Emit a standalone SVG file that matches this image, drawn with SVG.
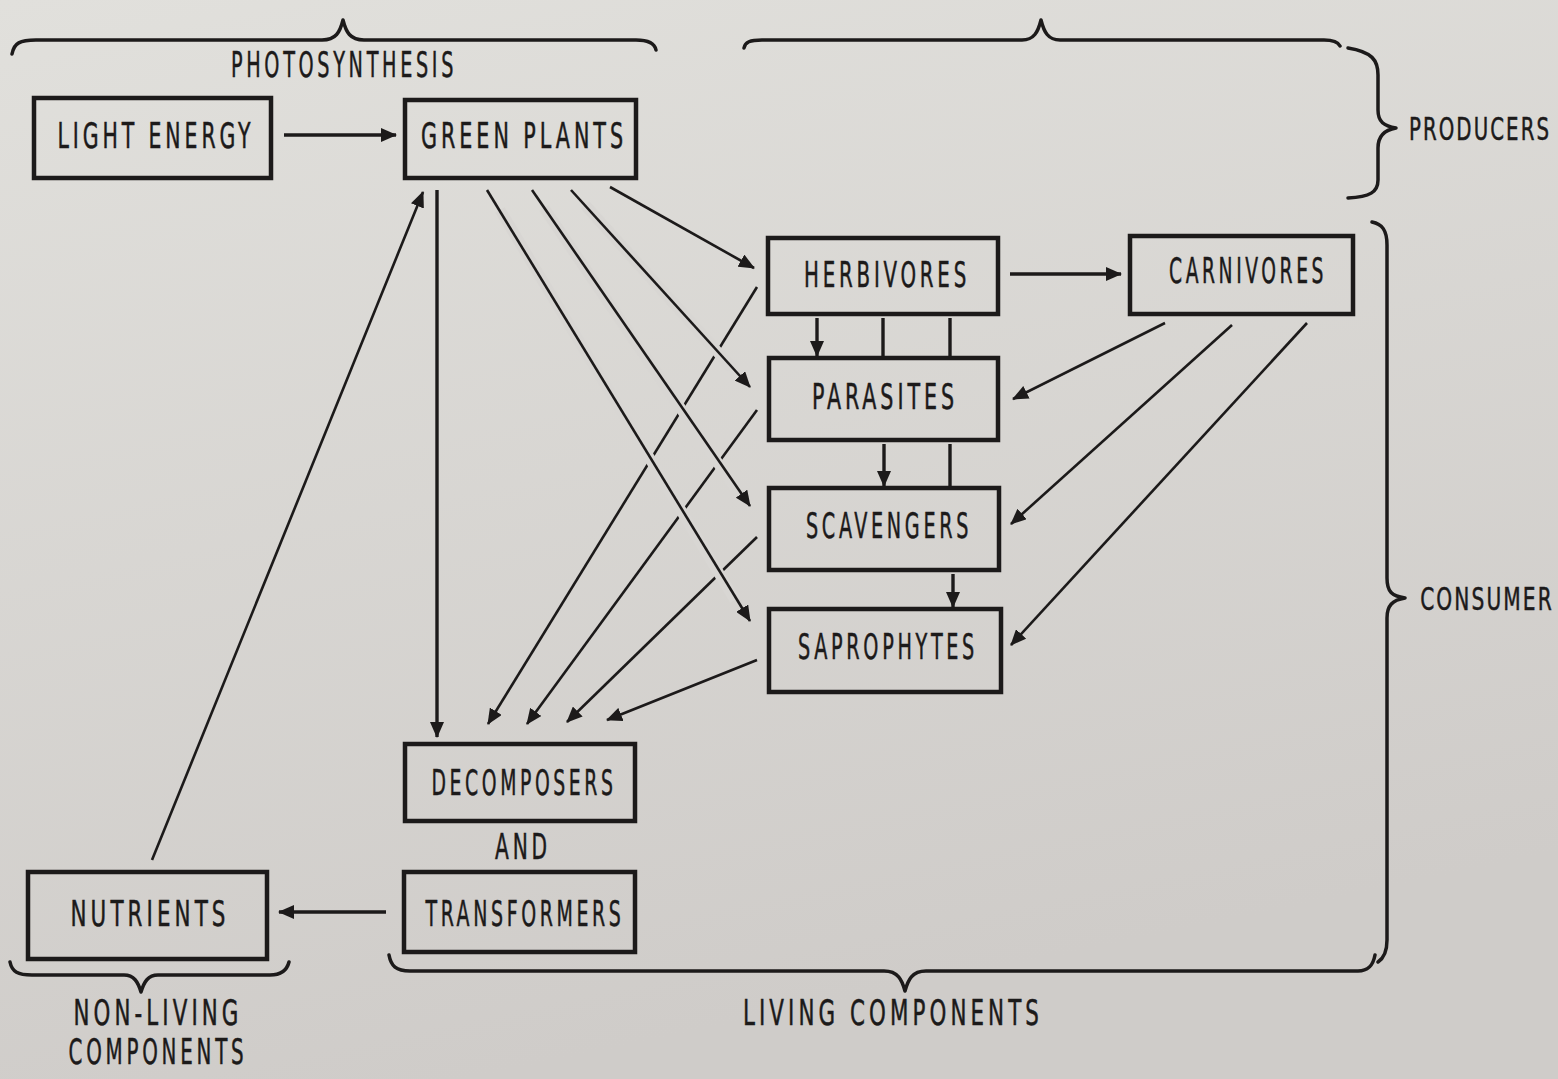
<svg xmlns="http://www.w3.org/2000/svg" width="1558" height="1079" viewBox="0 0 1558 1079">
<defs>
<linearGradient id="paper" x1="0" y1="0" x2="0.3" y2="1">
<stop offset="0" stop-color="#e1e0dc"/>
<stop offset="1" stop-color="#cfccc9"/>
</linearGradient>
<marker id="ah" markerUnits="userSpaceOnUse" markerWidth="16" markerHeight="14" refX="15" refY="7" orient="auto">
<path d="M0,0 L16,7 L0,14 z" fill="#1c1a1a"/>
</marker>
</defs>
<style>
.box{fill:none;stroke:#1c1a1a;stroke-width:4.5}
.lbl{font-family:"Liberation Sans Narrow","DejaVu Sans Condensed","Liberation Sans",sans-serif;font-size:35px;fill:#1c1a1a;stroke:#1c1a1a;stroke-width:0.5;text-anchor:middle;letter-spacing:6px}
.side{font-size:32px;letter-spacing:3px}
.ln{fill:none;stroke:#1c1a1a;stroke-width:2.6}
.thick{stroke-width:3.4}
.halo{fill:none;stroke:#d8d6d3;stroke-width:11}
.brace{fill:none;stroke:#1c1a1a;stroke-width:3.5;stroke-linecap:round;stroke-linejoin:round}
</style>
<rect width="1558" height="1079" fill="url(#paper)"/>

<g id="braces">
<path class="brace" d="M12 54 C14 43 20 40 36 40 L322 40 C336 40 340 32 343 20 C346 32 350 40 364 40 L636 40 C650 40 655 45 656 50"/>
<path class="brace" d="M744 48 C745 42 750 40 762 40 L1022 40 C1034 40 1038 32 1041 20 C1044 32 1048 40 1060 40 L1324 40 C1334 40 1338 42 1340 46"/>
<path class="brace" d="M1348 48 C1372 52 1378 60 1378 75 L1378 110 C1378 122 1384 126 1396 128 C1384 130 1378 136 1378 148 L1378 180 C1378 192 1370 197 1348 198"/>
<path class="brace" d="M1372 222 C1382 224 1387 230 1387 245 L1387 578 C1387 592 1392 596 1405 598 C1392 600 1387 606 1387 618 L1387 940 C1387 952 1384 958 1378 962"/>
<path class="brace" d="M389 955 C391 966 396 971 410 971 L884 971 C898 971 902 980 905 991 C908 980 912 971 926 971 L1358 971 C1368 971 1373 966 1375 955"/>
<path class="brace" d="M10 962 C12 972 18 975 32 975 L124 975 C134 975 138 982 141 992 C144 982 148 975 158 975 L270 975 C282 975 287 970 289 962"/>
</g>

<g id="connectors">
<line class="ln" x1="757" y1="287" x2="488" y2="724" marker-end="url(#ah)"/>
<line class="ln" x1="757" y1="410" x2="527" y2="724" marker-end="url(#ah)"/>
<line class="ln" x1="757" y1="537" x2="567" y2="722" marker-end="url(#ah)"/>
<line class="ln" x1="757" y1="660" x2="607" y2="720" marker-end="url(#ah)"/>
<line class="halo" x1="500" y1="210" x2="735" y2="600"/>
<line class="halo" x1="544" y1="208" x2="735" y2="488"/>
<line class="halo" x1="585" y1="205" x2="732" y2="368"/>
<line class="ln" x1="487" y1="190" x2="750" y2="621" marker-end="url(#ah)"/>
<line class="ln" x1="532" y1="190" x2="750" y2="506" marker-end="url(#ah)"/>
<line class="ln" x1="571" y1="190" x2="750" y2="387" marker-end="url(#ah)"/>
<line class="ln" x1="610" y1="187" x2="754" y2="268" marker-end="url(#ah)"/>
<line class="ln thick" x1="437" y1="190" x2="437" y2="737" marker-end="url(#ah)"/>
<line class="ln" x1="152" y1="860" x2="423" y2="192" marker-end="url(#ah)"/>
<line class="ln thick" x1="284" y1="135" x2="396" y2="135" marker-end="url(#ah)"/>
<line class="ln thick" x1="1010" y1="274" x2="1121" y2="274" marker-end="url(#ah)"/>
<line class="ln thick" x1="386" y1="912" x2="279" y2="912" marker-end="url(#ah)"/>
<line class="ln thick" x1="817" y1="318" x2="817" y2="356" marker-end="url(#ah)"/>
<line class="ln thick" x1="883" y1="318" x2="883" y2="357"/>
<line class="ln thick" x1="950" y1="318" x2="950" y2="357"/>
<line class="ln thick" x1="884" y1="444" x2="884" y2="486" marker-end="url(#ah)"/>
<line class="ln thick" x1="950" y1="444" x2="950" y2="487"/>
<line class="ln thick" x1="953" y1="574" x2="953" y2="607" marker-end="url(#ah)"/>
<line class="ln" x1="1165" y1="323" x2="1013" y2="399" marker-end="url(#ah)"/>
<line class="ln" x1="1232" y1="325" x2="1011" y2="524" marker-end="url(#ah)"/>
<line class="ln" x1="1307" y1="323" x2="1011" y2="645" marker-end="url(#ah)"/>
</g>

<g id="light-energy"><rect class="box" x="34" y="98" width="237" height="80"/><text class="lbl" x="156" y="148" textLength="197" lengthAdjust="spacingAndGlyphs">LIGHT ENERGY</text></g>
<g id="green-plants"><rect class="box" x="405" y="100" width="231" height="78"/><text class="lbl" x="524" y="148" textLength="206" lengthAdjust="spacingAndGlyphs">GREEN PLANTS</text></g>
<g id="herbivores"><rect class="box" x="768" y="238" width="230" height="76"/><text class="lbl" x="887" y="287" textLength="166" lengthAdjust="spacingAndGlyphs">HERBIVORES</text></g>
<g id="carnivores"><rect class="box" x="1130" y="236" width="223" height="78"/><text class="lbl" x="1248" y="283" textLength="158" lengthAdjust="spacingAndGlyphs">CARNIVORES</text></g>
<g id="parasites"><rect class="box" x="769" y="358" width="229" height="82"/><text class="lbl" x="885" y="409" textLength="146" lengthAdjust="spacingAndGlyphs">PARASITES</text></g>
<g id="scavengers"><rect class="box" x="769" y="488" width="230" height="82"/><text class="lbl" x="889" y="538" textLength="166" lengthAdjust="spacingAndGlyphs">SCAVENGERS</text></g>
<g id="saprophytes"><rect class="box" x="769" y="609" width="232" height="83"/><text class="lbl" x="888" y="659" textLength="180" lengthAdjust="spacingAndGlyphs">SAPROPHYTES</text></g>
<g id="decomposers"><rect class="box" x="405" y="744" width="230" height="77"/><text class="lbl" x="524" y="795" textLength="185" lengthAdjust="spacingAndGlyphs">DECOMPOSERS</text></g>
<g id="transformers"><rect class="box" x="404" y="872" width="231" height="80"/><text class="lbl" x="525" y="926" textLength="199" lengthAdjust="spacingAndGlyphs">TRANSFORMERS</text></g>
<g id="nutrients"><rect class="box" x="28" y="872" width="239" height="87"/><text class="lbl" x="150" y="926" textLength="159" lengthAdjust="spacingAndGlyphs">NUTRIENTS</text></g>

<g id="labels">
<text class="lbl" x="344" y="77" textLength="226" lengthAdjust="spacingAndGlyphs">PHOTOSYNTHESIS</text>
<text class="lbl" x="523" y="859" textLength="56" lengthAdjust="spacingAndGlyphs">AND</text>
<text class="lbl side" transform="translate(1480 140) scale(0.7 1)" x="0" y="0" textLength="203" lengthAdjust="spacingAndGlyphs">PRODUCERS</text>
<text class="lbl side" transform="translate(1487 610) scale(0.7 1)" x="0" y="0" textLength="191" lengthAdjust="spacingAndGlyphs">CONSUMER</text>
<text class="lbl" x="158" y="1025" textLength="169" lengthAdjust="spacingAndGlyphs">NON-LIVING</text>
<text class="lbl" x="158" y="1064" textLength="179" lengthAdjust="spacingAndGlyphs">COMPONENTS</text>
<text class="lbl" x="893" y="1025" textLength="300" lengthAdjust="spacingAndGlyphs">LIVING COMPONENTS</text>
</g>
</svg>
